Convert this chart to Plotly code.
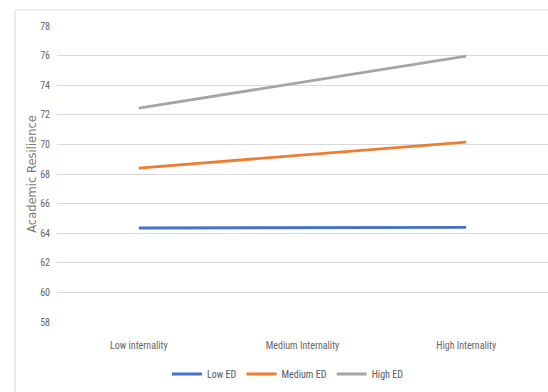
import plotly.graph_objects as go

categories = ["Low internality", "Medium Internality", "High Internality"]
series_names = ["Low ED", "Medium ED", "High ED"]
low_ed = [64.35, 64.37, 64.4]
medium_ed = [68.4, 69.3, 70.16]
high_ed = [72.45, 74.2, 75.97]
colors = ["#4472C4", "#ED7D31", "#A5A5A5"]
y_ticks = [58, 60, 62, 64, 66, 68, 70, 72, 74, 76, 78]

narrow = "Liberation Sans Narrow, Arial Narrow, Roboto Condensed, sans-serif"

fig = go.Figure()
for name, vals, c in zip(series_names, [low_ed, medium_ed, high_ed], colors):
    fig.add_trace(go.Scatter(x=categories, y=vals, mode="lines", name=name,
                             line=dict(color=c, width=2.8)))

W, H = 548, 392
ml, mr, mt, mb = 57, 0, 26, 70
pw = W - ml - mr
ph = H - mt - mb

fig.update_layout(
    width=W, height=H,
    margin=dict(l=ml, r=mr, t=mt, b=mb, autoexpand=False),
    paper_bgcolor="white", plot_bgcolor="white",
    showlegend=True,
    legend=dict(orientation="h", x=(288 - ml) / pw, xanchor="center",
                y=-(374 - (H - mb)) / ph, yanchor="middle",
                font=dict(family=narrow, size=10, color="#595959"),
                itemwidth=30, tracegroupgap=0),
    xaxis=dict(type="category", range=[-0.5, 2.5], showgrid=False,
               showline=False, ticks="", zeroline=False, automargin=False,
               ticklabelstandoff=16,
               tickfont=dict(family=narrow, size=10, color="#666666")),
    yaxis=dict(range=[58, 78], tickvals=y_ticks, showgrid=True,
               gridcolor="#D9D9D9", gridwidth=1, zeroline=False,
               showline=False, ticks="", ticklabelstandoff=6, automargin=False,
               tickfont=dict(family=narrow, size=10, color="#666666"),
               title=dict(text="Academic Resilience", standoff=1,
                          font=dict(family="DejaVu Sans, sans-serif",
                                    size=11.5, color="#7a7a7a"))),
    shapes=[dict(type="rect", xref="paper", yref="paper",
                 x0=(15 - ml) / pw, x1=1.05,
                 y0=-(400 - (H - mb)) / ph, y1=1 + (mt - 10) / ph,
                 line=dict(color="#D9D9D9", width=1), layer="below")],
)

fig.write_html("out.html", config={"displayModeBar": False})
with open("out.html", "r", encoding="utf-8") as f:
    html = f.read()
html = html.replace("<head>", "<head><style>html,body{margin:0;padding:0;overflow:hidden;}</style>", 1)
with open("out.html", "w", encoding="utf-8") as f:
    f.write(html)
